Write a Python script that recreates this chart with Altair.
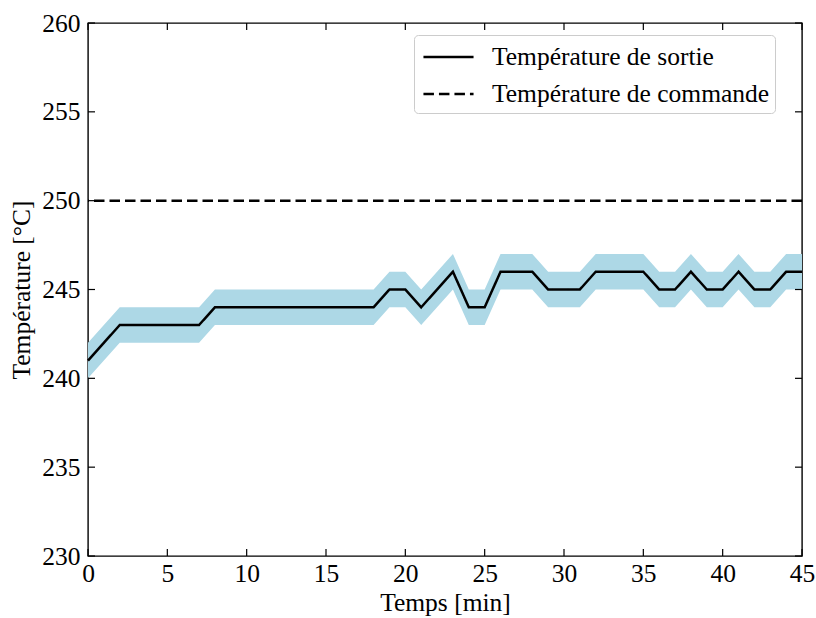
import altair as alt
import pandas as pd

# Outlet temperature, sampled every minute
minutes = list(range(46))
sortie = [241, 242, 243, 243, 243, 243, 243, 243,
          244, 244, 244, 244, 244, 244, 244, 244, 244, 244, 244,
          245, 245, 244, 245, 246, 244, 244, 246, 246, 246,
          245, 245, 245, 246, 246, 246, 246, 245, 245, 246,
          245, 245, 246, 245, 245, 246, 246]
incertitude = 1.0
consigne = 250
series = ["Température de sortie", "Température de commande"]
x_ticks = list(range(0, 46, 5))
y_ticks = list(range(230, 261, 5))

W, H = 714, 533
FONT = "Liberation Serif"
FS = 25.5
TICK = 7
LW = 2.5

df = pd.DataFrame({"t": minutes, "temp": sortie, "serie": series[0]})
df["bas"] = df["temp"] - incertitude
df["haut"] = df["temp"] + incertitude

x_scale = alt.Scale(domain=[0, 45], nice=False, zero=False)
y_scale = alt.Scale(domain=[230, 260], nice=False, zero=False)
dash_scale = alt.Scale(domain=series, range=[[1, 0], [10.5, 5]])

x_axis = alt.Axis(values=x_ticks, title="Temps [min]", labelPadding=5,
                  titlePadding=4, labelFlush=False)
y_axis = alt.Axis(values=y_ticks, title="Température [°C]", labelPadding=8,
                  titlePadding=7, labelFlush=False)

band = alt.Chart(df).mark_area(color="#ADD8E6", opacity=1).encode(
    x=alt.X("t:Q", scale=x_scale, axis=x_axis),
    y=alt.Y("bas:Q", scale=y_scale, axis=y_axis),
    y2="haut:Q",
)

# Legend: short nominal symbol height keeps rows compact, while the
# custom path draws a longer line sample.
legend = alt.Legend(
    title=None, orient="none", legendX=326, legendY=12,
    symbolType="M-1.67,0H1.67", symbolSize=900, symbolStrokeWidth=LW,
    symbolStrokeColor="black", symbolOffset=12.5,
    labelFont=FONT, labelFontSize=FS, labelColor="black", labelOffset=27,
    rowPadding=7, fillColor="white", strokeColor="#cccccc", cornerRadius=4,
    padding=5.5, labelLimit=400,
)

line = alt.Chart(df).mark_line(color="black", strokeWidth=LW).encode(
    x=alt.X("t:Q", scale=x_scale, axis=x_axis),
    y=alt.Y("temp:Q", scale=y_scale, axis=y_axis),
    strokeDash=alt.StrokeDash("serie:N", scale=dash_scale, legend=legend),
)

cmd = alt.Chart(pd.DataFrame({"v": [consigne], "serie": [series[1]]})).mark_rule(
    color="black", strokeWidth=LW
).encode(
    y=alt.Y("v:Q", scale=y_scale, axis=y_axis),
    strokeDash=alt.StrokeDash("serie:N", scale=dash_scale, legend=legend),
)

xt = pd.DataFrame({"v": x_ticks})
yt = pd.DataFrame({"v": y_ticks})
tick_style = dict(color="black", strokeWidth=1.2)
x_bottom = alt.Chart(xt).mark_rule(**tick_style).encode(
    x=alt.X("v:Q", scale=x_scale, axis=x_axis), y=alt.value(H), y2=alt.value(H - TICK))
x_top = alt.Chart(xt).mark_rule(**tick_style).encode(
    x=alt.X("v:Q", scale=x_scale, axis=x_axis), y=alt.value(0), y2=alt.value(TICK))
y_left = alt.Chart(yt).mark_rule(**tick_style).encode(
    y=alt.Y("v:Q", scale=y_scale, axis=y_axis), x=alt.value(0), x2=alt.value(TICK))
y_right = alt.Chart(yt).mark_rule(**tick_style).encode(
    y=alt.Y("v:Q", scale=y_scale, axis=y_axis), x=alt.value(W), x2=alt.value(W - TICK))

chart = alt.layer(band, line, cmd, x_bottom, x_top, y_left, y_right).properties(
    width=W, height=H,
    autosize=alt.AutoSizeParams(type="none"),
    padding={"left": 88, "top": 23, "right": 14, "bottom": 62},
).configure_view(
    stroke="black", strokeWidth=1.4
).configure_axis(
    domain=False, ticks=False, grid=False,
    labelFont=FONT, labelFontSize=FS, labelColor="black",
    titleFont=FONT, titleFontSize=FS, titleFontWeight="normal", titleColor="black",
)

chart.save("out.html", embed_options={"renderer": "svg", "actions": False})
